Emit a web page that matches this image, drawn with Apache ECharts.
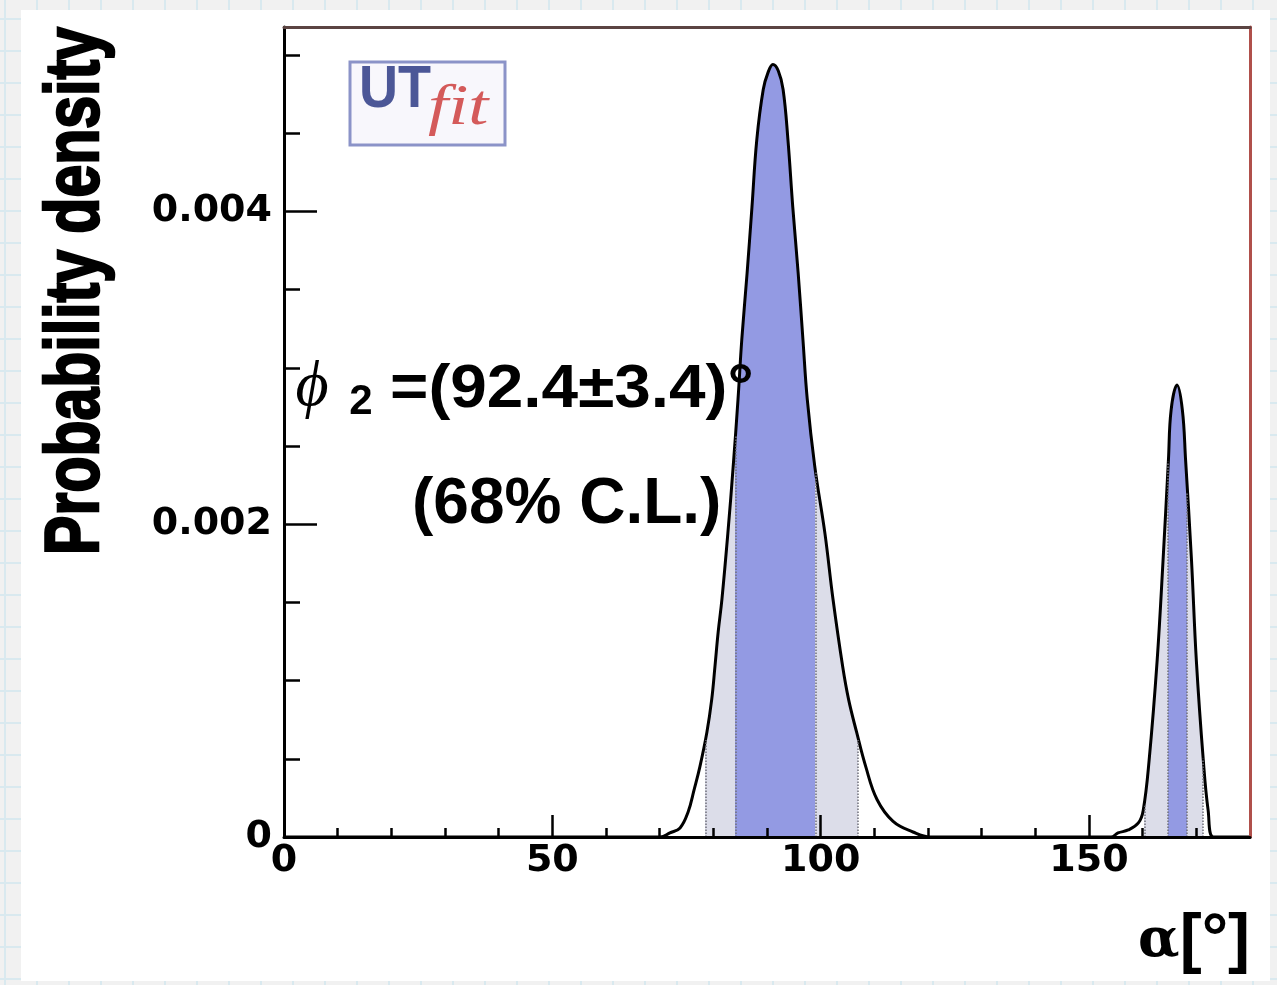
<!DOCTYPE html>
<html>
<head>
    <meta charset="utf-8">
    <title>alpha probability density</title>
    <style type="text/css">
        html, body {
            margin: 0;
            width: 1277px;
            height: 985px;
            overflow: hidden;
        }
        body {
            background-color: #f1f1f1;
            background-image: linear-gradient(#d9e9ef 2px, transparent 2px),
                              linear-gradient(90deg, #d9e9ef 2px, transparent 2px);
            background-size: 32px 32px;
            background-position: 4px 18px;
        }
        #main {
            position: absolute;
            left: 21px;
            top: 10px;
            width: 1249px;
            height: 971px;
            background: #fff;
        }
    </style>
</head>
<body>

    <div id="main"></div>
    <script src="https://cdn.jsdelivr.net/npm/echarts@6.0.0/dist/echarts.min.js"></script>

    <script>
        // curve: alpha in degrees, probability density
        var alphaDeg = [0, 70.1, 71.9, 73.8, 75.3, 76.4, 77.5, 78.8, 79.7, 80.3,
            80.9, 81.6, 82.7, 83.7, 84.6, 85.3, 86.3, 87.2, 88.1, 89.3,
            90.2, 91.1, 92.1, 93.0, 93.9, 94.8, 95.8, 96.7, 97.5, 98.9,
            100.8, 102.3, 104.1, 105.2, 106.7, 108.4, 110.5, 113.5, 117.2, 120.4,
            154.1, 155.4, 157.3, 159.2, 160.1, 161.2, 162.7, 163.8, 164.8, 165.3,
            166.4, 167.4, 168.0, 169.1, 170.0, 171.3, 172.2, 173.2, 180];
        var density = [0, 0, 0.000026, 0.000058, 0.00016, 0.0003, 0.00045, 0.00067, 0.00088, 0.00109,
            0.00131, 0.00152, 0.00194, 0.00237, 0.0028, 0.00318, 0.00361, 0.00403, 0.00446, 0.00478,
            0.00489, 0.00494, 0.0049, 0.00478, 0.00446, 0.00403, 0.00361, 0.00318, 0.0028, 0.00237,
            0.00194, 0.00152, 0.00109, 0.00088, 0.00067, 0.00045, 0.00024, 0.0001, 0.000032, 0,
            0, 0.000026, 0.000045, 0.00009, 0.00017, 0.00049, 0.00113, 0.00177, 0.00241, 0.00273,
            0.00289, 0.00273, 0.00241, 0.00177, 0.00113, 0.00049, 0.00017, 0, 0];

        // shaded intervals (95% grey, 68% blue)
        var bandLimits = [0, 78.5, 84.1, 99.0, 107.0, 160.3, 164.7, 168.2, 171.2, 180];
        var bandKinds = ['none', 'p95', 'p68', 'p95', 'none', 'p95', 'p68', 'p95', 'none'];
        // dotted edges of the bands, height where they meet the curve
        var edgeAlpha = [78.5, 84.1, 99.0, 107.0, 160.3, 164.7, 168.2, 171.2];
        var edgeHeight = [0.00062, 0.00257, 0.00234, 0.00062, 0.0002, 0.0024, 0.0022, 0.0005];

        var xLabels = [0, 50, 100, 150];
        var xMinor = [10, 20, 30, 40, 60, 70, 80, 90, 110, 120, 130, 140, 160, 170];
        var yLabels = [0, 0.002, 0.004];
        var yMinor = [0.0005, 0.001, 0.0015, 0.0025, 0.003, 0.0035, 0.0045, 0.005];

        var bandColor = {
            none: 'rgba(255,255,255,0)',
            p95: '#dcdde9',
            p68: '#939ae3'
        };

        var pieces = [];
        for (var i = 0; i < bandKinds.length; i++) {
            pieces.push({
                gte: bandLimits[i],
                lt: bandLimits[i + 1] + (i === bandKinds.length - 1 ? 1 : 0),
                color: bandColor[bandKinds[i]]
            });
        }

        var curve = alphaDeg.map(function (a, i) {
            return [a, density[i]];
        });

        var edges = edgeAlpha.map(function (a, i) {
            return [{ coord: [a, 0] }, { coord: [a, edgeHeight[i]] }];
        });

        var tickFont = {
            fontFamily: 'DejaVu Sans',
            fontWeight: 'bold',
            fontSize: 38,
            color: '#000'
        };

        var chart = echarts.init(document.getElementById('main'));

        chart.setOption({
            animation: false,
            grid: { left: 263, top: 17, right: 20, bottom: 144 },
            xAxis: [
                {
                    type: 'value', min: 0, max: 180, position: 'bottom', z: 5,
                    axisLine: { onZero: false, lineStyle: { color: '#000', width: 3 } },
                    axisTick: { inside: true, length: 22, customValues: xLabels, lineStyle: { color: '#000', width: 2.5 } },
                    axisLabel: Object.assign({ customValues: xLabels, margin: 5 }, tickFont),
                    splitLine: { show: false },
                    name: '{a|α}{b|[°]}',
                    nameLocation: 'end',
                    nameGap: 0,
                    nameTextStyle: {
                        align: 'right',
                        verticalAlign: 'top',
                        padding: [72, 0, 0, 0],
                        rich: {
                            a: { fontFamily: 'DejaVu Serif', fontWeight: 'bold', fontSize: 54, color: '#000' },
                            b: { fontFamily: 'Liberation Sans', fontWeight: 'bold', fontSize: 66, color: '#000' }
                        }
                    }
                },
                {
                    type: 'value', min: 0, max: 180, position: 'bottom', z: 5,
                    axisLine: { show: false, onZero: false },
                    axisTick: { inside: true, length: 9, customValues: xMinor, lineStyle: { color: '#000', width: 2.5 } },
                    axisLabel: { show: false },
                    splitLine: { show: false }
                },
                {
                    type: 'value', min: 0, max: 180, position: 'top', z: 5,
                    axisLine: { onZero: false, lineStyle: { color: '#5b4442', width: 3 } },
                    axisTick: { show: false },
                    axisLabel: { show: false },
                    splitLine: { show: false }
                }
            ],
            yAxis: [
                {
                    type: 'value', min: 0, max: 0.00518, position: 'left', z: 5,
                    axisLine: { onZero: false, lineStyle: { color: '#000', width: 3 } },
                    axisTick: { inside: true, length: 33, customValues: yLabels, lineStyle: { color: '#000', width: 2.5 } },
                    axisLabel: Object.assign({
                        customValues: yLabels,
                        margin: 12,
                        formatter: function (v) {
                            return v === 0 ? '0' : v.toFixed(3);
                        }
                    }, tickFont),
                    splitLine: { show: false }
                },
                {
                    type: 'value', min: 0, max: 0.00518, position: 'left', z: 5,
                    axisLine: { show: false, onZero: false },
                    axisTick: { inside: true, length: 16, customValues: yMinor, lineStyle: { color: '#000', width: 2.5 } },
                    axisLabel: { show: false },
                    splitLine: { show: false }
                },
                {
                    type: 'value', min: 0, max: 0.00518, position: 'right', z: 5,
                    axisLine: { onZero: false, lineStyle: { color: '#b0504b', width: 3 } },
                    axisTick: { show: false },
                    axisLabel: { show: false },
                    splitLine: { show: false }
                }
            ],
            visualMap: {
                type: 'piecewise',
                show: false,
                dimension: 0,
                seriesIndex: 0,
                pieces: pieces
            },
            series: [{
                type: 'line',
                xAxisIndex: 0,
                yAxisIndex: 0,
                data: curve,
                smooth: 0.4,
                symbol: 'none',
                showSymbol: false,
                lineStyle: { color: '#000', width: 3 },
                areaStyle: { opacity: 1 },
                markLine: {
                    silent: true,
                    symbol: ['none', 'none'],
                    label: { show: false },
                    lineStyle: { type: 'dotted', color: '#6f6f7a', width: 1.5 },
                    data: edges
                }
            }],
            graphic: [
                {
                    type: 'text', x: 56, y: 281, rotation: Math.PI / 2, scaleY: 1.28, z: 100,
                    style: {
                        text: 'Probability density',
                        font: 'bold 59px "Liberation Sans"',
                        fill: '#000',
                        stroke: '#000',
                        lineWidth: 2,
                        align: 'center', verticalAlign: 'middle',
                        textAlign: 'center', textVerticalAlign: 'middle'
                    }
                },
                {
                    type: 'rect', z: 100,
                    shape: { x: 329, y: 52, width: 155, height: 83 },
                    style: { fill: '#f8f7fc', stroke: '#8b93c8', lineWidth: 3 }
                },
                {
                    type: 'text', x: 338, y: 80, scaleX: 0.9, z: 101,
                    style: {
                        text: 'UT', font: 'bold 60px "Liberation Sans"', fill: '#4c5797',
                        align: 'left', verticalAlign: 'middle',
                        textAlign: 'left', textVerticalAlign: 'middle'
                    }
                },
                {
                    type: 'text', x: 407, y: 99, scaleX: 1.25, z: 101,
                    style: {
                        text: 'fit', font: 'italic 58px "Liberation Serif"', fill: '#d45a5a',
                        align: 'left', verticalAlign: 'middle',
                        textAlign: 'left', textVerticalAlign: 'middle'
                    }
                },
                {
                    type: 'text', x: 291, y: 378, z: 100,
                    style: {
                        text: 'ϕ', font: 'italic 64px "Liberation Serif"', fill: '#000',
                        align: 'center', verticalAlign: 'middle',
                        textAlign: 'center', textVerticalAlign: 'middle'
                    }
                },
                {
                    type: 'text', x: 340, y: 392, z: 100,
                    style: {
                        text: '2', font: 'bold 42px "Liberation Sans"', fill: '#000',
                        align: 'center', verticalAlign: 'middle',
                        textAlign: 'center', textVerticalAlign: 'middle'
                    }
                },
                {
                    type: 'text', x: 369, y: 380, scaleX: 1.06, z: 100,
                    style: {
                        text: '=(92.4±3.4)°', font: 'bold 62px "Liberation Sans"', fill: '#000',
                        align: 'left', verticalAlign: 'middle',
                        textAlign: 'left', textVerticalAlign: 'middle'
                    }
                },
                {
                    type: 'text', x: 391, y: 495, z: 100,
                    style: {
                        text: '(68% C.L.)', font: 'bold 64px "Liberation Sans"', fill: '#000',
                        align: 'left', verticalAlign: 'middle',
                        textAlign: 'left', textVerticalAlign: 'middle'
                    }
                }
            ]
        });
    </script>
</body>
</html>
